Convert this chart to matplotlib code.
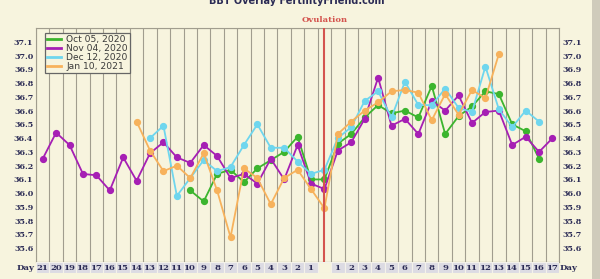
import numpy as np
import matplotlib.pyplot as plt
from matplotlib.patches import Rectangle

# ==== data ====
pre_days = list(range(21, 0, -1))        # days before ovulation
post_days = list(range(1, 18))           # days after ovulation
day_labels = [str(d) for d in pre_days] + [''] + [str(d) for d in post_days]

N = None
oct05 = [N] * 11 + [36.02, 35.94, 36.14, 36.17, 36.08, 36.18, 36.24, 36.30, 36.41, 36.10] + [36.10] + \
        [36.36, 36.43, 36.55, 36.64, 36.58, 36.60, 36.55, 36.78, 36.43, 36.56, 36.63, 36.74, 36.72,
         36.50, 36.45, 36.25, N]
nov04 = [36.25, 36.44, 36.35, 36.14, 36.13, 36.02, 36.26, 36.09, 36.29, 36.37, 36.26, 36.22, 36.35,
         36.27, 36.11, 36.14, 36.07, 36.25, 36.10, 36.35, 36.07] + [36.03] + \
        [36.31, 36.37, 36.54, 36.84, 36.49, 36.54, 36.43, 36.67, 36.60, 36.71, 36.51, 36.59, 36.60,
         36.35, 36.41, 36.30, 36.40]
dec12 = [N] * 8 + [36.40, 36.49, 35.98, 36.11, 36.24, 36.16, 36.19, 36.35, 36.50, 36.33, 36.33,
                   36.23, 36.14] + [36.17] + \
        [36.40, 36.48, 36.67, 36.74, 36.55, 36.81, 36.64, 36.64, 36.76, 36.62, 36.59, 36.92, 36.61,
         36.48, 36.60, 36.52, N]
jan10 = [N] * 7 + [36.52, 36.31, 36.16, 36.20, 36.11, 36.29, 36.02, 35.68, 36.18, 36.11, 35.92, 36.11,
                   36.17, 36.03] + [35.89] + \
        [36.43, 36.52, 36.60, 36.66, 36.74, 36.75, 36.73, 36.53, 36.72, 36.57, 36.75, 36.69, 37.01,
         N, N, N, N]

series_names = ['Oct 05, 2020', 'Nov 04, 2020', 'Dec 12, 2020', 'Jan 10, 2021']
series_values = [oct05, nov04, dec12, jan10]
series_colors = ['#3cb52e', '#a61fb4', '#6fd6ee', '#f7b25c']

y_ticks = [round(35.6 + 0.1 * i, 1) for i in range(16)]

# ==== style ====
BG = '#f7f4de'
GRID = '#a19d8e'
TXT = '#2b2b55'
OVU = '#d4544e'

fig = plt.figure(figsize=(6, 2.79), dpi=100, facecolor=BG)
ax = fig.add_axes([0.06, 0.0609, 0.872, 0.8387])
ax.set_facecolor(BG)

n = len(day_labels)
x = np.arange(n)
ov_pos = day_labels.index('')

for i, (name, vals, col) in enumerate(zip(series_names, series_values, series_colors)):
    y = np.array([np.nan if v is None else v for v in vals], dtype=float)
    ax.plot(x, y, color=col, lw=1.3, marker='o', ms=4.2, mec=col, label=name, zorder=3 + i)

ax.axvline(ov_pos, color=OVU, lw=1.5, zorder=8)

ax.set_xlim(-0.5, n - 0.5)
ax.set_ylim(35.5, 37.2)
ax.set_xticks(np.arange(-0.5, n, 1.0), minor=True)
ax.set_yticks(np.arange(35.5, 37.25, 0.1), minor=True)
ax.grid(which='minor', color=GRID, lw=0.8)
ax.set_axisbelow(True)
ax.set_xticks([])
ax.set_yticks(y_ticks)
ax.set_yticklabels([f'{t:.1f}' for t in y_ticks], family='DejaVu Serif', weight='bold',
                   fontsize=5.8, color=TXT)
ax.tick_params(axis='y', which='both', length=0, pad=2, labelright=True)
ax.tick_params(axis='x', which='both', length=0)
for s in ax.spines.values():
    s.set_color(GRID)
    s.set_linewidth(0.8)

leg = ax.legend(loc='upper left', bbox_to_anchor=(0.008, 1.0), fontsize=6.6, handlelength=1.5,
                handletextpad=0.6, borderpad=0.25, labelspacing=0.0, frameon=True, fancybox=False,
                markerscale=0)
leg.get_frame().set_facecolor(BG)
leg.get_frame().set_edgecolor('#666666')
leg.get_frame().set_linewidth(0.9)
leg.get_frame().set_alpha(1)
for h in leg.legend_handles:
    h.set_linewidth(2)
    h.set_marker('')
for t in leg.get_texts():
    t.set_color('#3a3a3a')
leg.set_zorder(20)

# ==== day row ====
axd = fig.add_axes([0.06, 0.0215, 0.872, 0.039], sharex=ax)
axd.set_facecolor(BG)
for i, lab in enumerate(day_labels):
    axd.add_patch(Rectangle((i - 0.5, 0), 1, 1, facecolor='#dcdbe3' if lab else BG,
                            edgecolor='#f4f2ea', lw=0.8))
    axd.text(i, 0.45, lab, ha='center', va='center', fontsize=6.1, weight='bold',
             family='DejaVu Serif', color=TXT)
axd.set_ylim(0, 1)
axd.axis('off')
fig.text(0.043, 0.041, 'Day', ha='center', va='center', fontsize=6.1, weight='bold',
         family='DejaVu Serif', color=TXT)
fig.text(0.948, 0.041, 'Day', ha='center', va='center', fontsize=6.1, weight='bold',
         family='DejaVu Serif', color=TXT)

# ==== titles ====
fig.text(0.495, 0.984, 'BBT Overlay FertilityFriend.com', ha='center', va='baseline',
         fontsize=7, weight='bold', color=TXT)
fig.text((0.06 + 0.872 * (ov_pos + 0.5) / n), 0.928, 'Ovulation', ha='center', va='center',
         fontsize=6, weight='bold', family='DejaVu Serif', color=OVU)

# shadow on right edge
fig.patches.append(Rectangle((0.987, 0), 0.013, 1, transform=fig.transFigure,
                             facecolor='#cfcbbb', edgecolor='none', zorder=0))

fig.savefig('out.png', dpi=100, facecolor=BG)
